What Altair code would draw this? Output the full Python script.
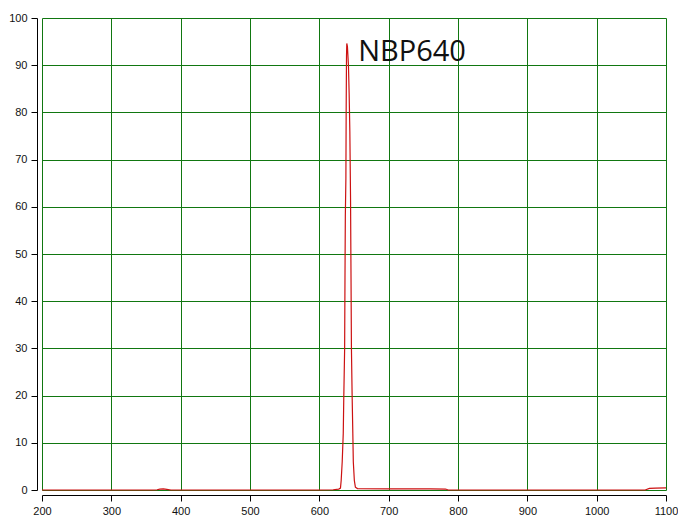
import altair as alt
import pandas as pd

wavelength = [200, 360, 366, 370, 375, 380, 386, 600, 620, 628, 630.5, 631.5, 633, 634.5, 635.2, 636.5,
              637, 637.5, 638.3, 638.7, 639.2, 639.6, 640.5, 642, 643, 644, 645, 645.7, 646.3, 647.3,
              648.3, 649, 650.5, 652, 655, 700, 760, 782, 786, 1070, 1076, 1085, 1100]
transmission = [0, 0, 0.05, 0.2, 0.25, 0.15, 0, 0, 0.05, 0.2, 0.4, 2, 6, 12, 19, 30,
                45, 58, 66, 80, 92, 94.6, 94, 90, 84, 76, 62, 45, 30, 20,
                12, 6, 2, 0.6, 0.3, 0.25, 0.25, 0.2, 0, 0, 0.35, 0.4, 0.45]

label_text = ["NBP640"]
label_x = [656]
label_y = [90.8]

df = pd.DataFrame({"wl": wavelength, "t": transmission})
lab = pd.DataFrame({"wl": label_x, "t": label_y, "txt": label_text})

GRID = "#117711"
FONT = "Liberation Sans, Arial, sans-serif"

x_axis = alt.Axis(
    values=list(range(200, 1101, 50)),
    format="d",
    labelExpr="datum.value % 100 === 0 ? datum.label : ''",
    tickSize={"condition": {"test": "datum.value % 100 === 0", "value": 6}, "value": 3},
    gridOpacity={"condition": {"test": "datum.value % 100 === 0", "value": 1}, "value": 0},
    grid=True, gridColor=GRID, gridWidth=1,
    domainColor="#000000", tickColor="#000000", domainWidth=1, tickWidth=1,
    labelFont=FONT, labelFontSize=11, labelColor="#111111", labelPadding=4,
    offset=5, title=None, labelFlush=False,
)
y_axis = alt.Axis(
    values=list(range(0, 101, 5)),
    format="d",
    labelExpr="datum.value % 10 === 0 ? datum.label : ''",
    tickSize={"condition": {"test": "datum.value % 10 === 0", "value": 6}, "value": 3},
    gridOpacity={"condition": {"test": "datum.value % 10 === 0", "value": 1}, "value": 0},
    grid=True, gridColor=GRID, gridWidth=1,
    domainColor="#000000", tickColor="#000000", domainWidth=1, tickWidth=1,
    labelFont=FONT, labelFontSize=11, labelColor="#111111", labelPadding=4,
    offset=5, title=None, labelFlush=False,
)

xs = alt.Scale(domain=[200, 1100], nice=False, zero=False)
ys = alt.Scale(domain=[0, 100], nice=False)

line = alt.Chart(df).mark_line(color="#cc1111", strokeWidth=1.2).encode(
    x=alt.X("wl:Q", scale=xs, axis=x_axis),
    y=alt.Y("t:Q", scale=ys, axis=y_axis),
)

text = alt.Chart(lab).mark_text(
    align="left", baseline="alphabetic", fontSize=29, font="Open Sans", color="#111111"
).encode(
    x=alt.X("wl:Q", scale=xs),
    y=alt.Y("t:Q", scale=ys),
    text="txt:N",
)

chart = alt.layer(line, text).properties(
    width=624,
    height=472,
    padding={"left": 34, "top": 10, "right": 12, "bottom": 27},
    autosize=alt.AutoSizeParams(type="none"),
    background="#ffffff",
).configure_view(strokeWidth=0)

chart.save("out.html", embed_options={"renderer": "svg", "actions": False})
